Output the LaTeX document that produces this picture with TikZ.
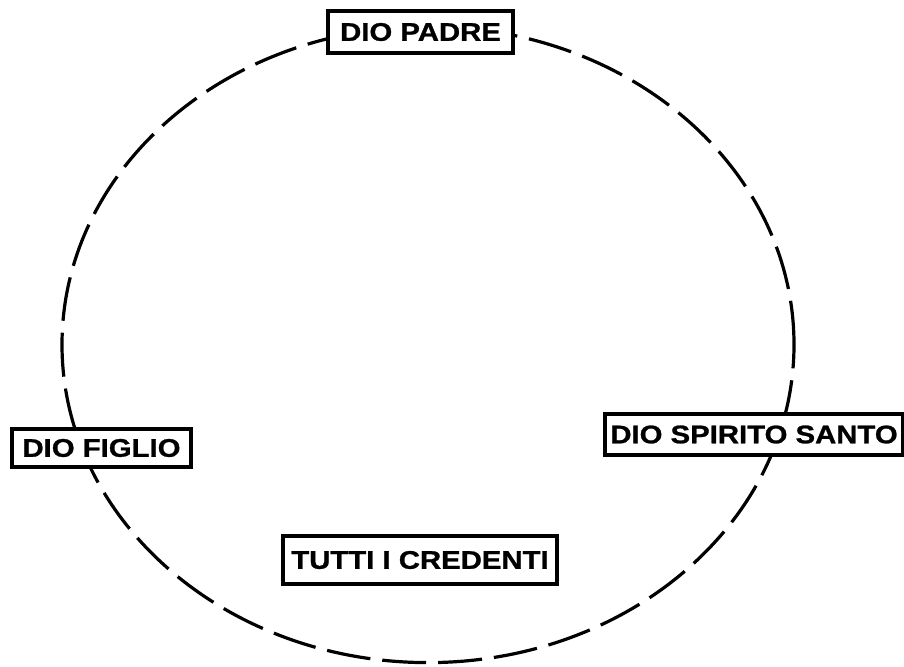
\documentclass[tikz,border=0pt]{standalone}
\usepackage{fontspec}
\newfontfamily\boxfont[FakeStretch=1.15,FakeBold=1]{Liberation Sans}
\begin{document}
\begin{tikzpicture}[x=1pt,y=-1pt,
  namebox/.style={draw,line width=3.2pt,fill=white,inner sep=0pt,
    font=\boxfont\bfseries\fontsize{25.5}{28}\selectfont},
  ring/.style={line width=3.2pt,dash pattern=on 44pt off 12pt}]
\useasboundingbox (0,0) rectangle (904,666);
\draw[ring] (428,344.6) ellipse [x radius=366pt,y radius=318pt];
\node[namebox,minimum width=185pt,minimum height=42pt] (padre) at (420.5,32) {DIO PADRE};
\node[namebox,minimum width=179pt,minimum height=38pt] (figlio) at (101.5,448) {DIO FIGLIO};
\node[namebox,minimum width=298pt,minimum height=41pt] (spirito) at (754,434.5) {DIO SPIRITO SANTO};
\node[namebox,minimum width=274pt,minimum height=48pt] (credenti) at (420,560) {TUTTI I CREDENTI};
\end{tikzpicture}
\end{document}
